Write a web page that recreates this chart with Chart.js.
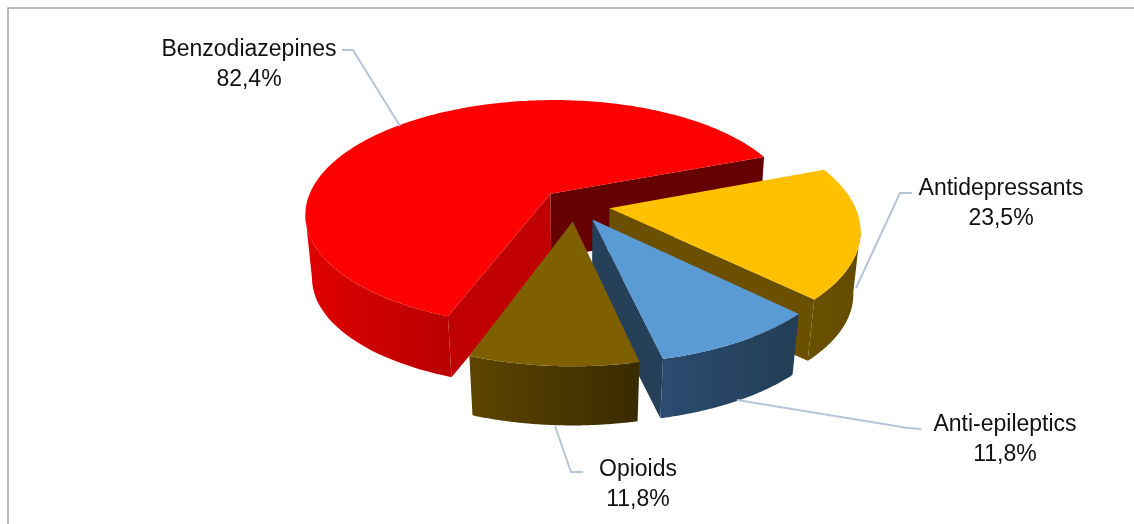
<!DOCTYPE html>
<html>
<head>
<meta charset="utf-8">
<script src="https://cdn.jsdelivr.net/npm/chart.js@4"></script>
<style>
    html, body { margin: 0; padding: 0; background: #fff; overflow: hidden; }
    #wrap { width: 1134px; height: 524px; position: relative; }
</style>
</head>
<body>
<div id="wrap"><canvas id="pieChart"></canvas></div>
<script>
const categories = ['Benzodiazepines', 'Antidepressants', 'Anti-epileptics', 'Opioids'];
const values = [82.4, 23.5, 11.8, 11.8];
const valueLabels = ['82,4%', '23,5%', '11,8%', '11,8%'];

const topColors = ['#ff0000', '#ffc000', '#5b9bd5', '#7f6000'];
const faceColors = ['#c00000', '#6a5000', '#254058', '#7f6000'];
const backFaceColors = ['#660000', '#6a5000', '#254058', '#7f6000'];
const wallColors = [
    ['#e00000', '#b80000'],
    ['#6a5000', '#634b00'],
    ['#2a4c70', '#233d55'],
    ['#5c4500', '#3a2b00']
];

// label placement, [text x, first line y, leader points]
const labelSpots = [
    { x: 249, y: 50, line: [[342, 50], [353, 50], [400, 126]] },
    { x: 1001, y: 189, line: [[912, 193], [900, 193], [856, 288]] },
    { x: 1005, y: 425, line: [[921, 429], [908, 428], [737, 400]] },
    { x: 638, y: 470, line: [[583, 472], [571, 472], [555, 426]] }
];

// flat pie -> tilted view
const persp = 0.172;
const flatten = 0.463;
const shrink = 0.025;
const depth = 64;

function project(arc, px, py, z) {
    const s = 1 / (1 - persp * py / arc.outerRadius + shrink * z);
    return {
        x: arc.x + px * s,
        y: arc.y + flatten * py * s + depth * z
    };
}

function slicePoint(arc, offX, offY, angle, r, z) {
    return project(arc, offX + Math.cos(angle) * r, offY + Math.sin(angle) * r, z);
}

function pathOf(ctx, pts) {
    ctx.beginPath();
    pts.forEach((p, i) => i ? ctx.lineTo(p.x, p.y) : ctx.moveTo(p.x, p.y));
    ctx.closePath();
}

const pie3d = {
    id: 'pie3d',
    beforeDatasetDraw(chart, args) {
        const ctx = chart.ctx;
        const arcs = chart.getDatasetMeta(args.index).data;

        arcs.forEach((arc, i) => {
            const start = arc.startAngle;
            const end = arc.endAngle;
            const mid = (start + end) / 2;
            const off = arc.options.offset || 0;
            const offX = Math.cos(mid) * off;
            const offY = Math.sin(mid) * off;
            const R = arc.outerRadius;

            // cut faces, only the ones turned to the viewer
            if (-Math.cos(start) > 0) {
                ctx.fillStyle = faceColors[i];
                pathOf(ctx, [
                    slicePoint(arc, offX, offY, start, 0, 0),
                    slicePoint(arc, offX, offY, start, R, 0),
                    slicePoint(arc, offX, offY, start, R, 1),
                    slicePoint(arc, offX, offY, start, 0, 1)
                ]);
                ctx.fill();
            }
            if (Math.cos(end) > 0) {
                ctx.fillStyle = backFaceColors[i];
                pathOf(ctx, [
                    slicePoint(arc, offX, offY, end, 0, 0),
                    slicePoint(arc, offX, offY, end, R, 0),
                    slicePoint(arc, offX, offY, end, R, 1),
                    slicePoint(arc, offX, offY, end, 0, 1)
                ]);
                ctx.fill();
            }

            // round wall, only from the silhouette forward
            const upper = [];
            const lower = [];
            for (let k = 0; k <= 120; k++) {
                const a = start + (end - start) * k / 120;
                if (Math.sin(a) >= persp) {
                    upper.push(slicePoint(arc, offX, offY, a, R, 0));
                    lower.push(slicePoint(arc, offX, offY, a, R, 1));
                }
            }
            if (upper.length > 1) {
                const xs = upper.concat(lower).map(p => p.x);
                const grad = ctx.createLinearGradient(Math.min(...xs), 0, Math.max(...xs), 0);
                grad.addColorStop(0, wallColors[i][0]);
                grad.addColorStop(1, wallColors[i][1]);
                ctx.fillStyle = grad;
                pathOf(ctx, upper.concat(lower.reverse()));
                ctx.fill();
            }

            // top
            const top = [slicePoint(arc, offX, offY, start, 0, 0)];
            for (let k = 0; k <= 240; k++) {
                top.push(slicePoint(arc, offX, offY, start + (end - start) * k / 240, R, 0));
            }
            ctx.fillStyle = topColors[i];
            pathOf(ctx, top);
            ctx.fill();
        });
        return false;
    },
    afterDraw(chart) {
        const ctx = chart.ctx;

        // outer frame, open on the right and at the bottom
        ctx.strokeStyle = '#a6a6a6';
        ctx.lineWidth = 1.5;
        ctx.beginPath();
        ctx.moveTo(8, 524);
        ctx.lineTo(8, 8);
        ctx.lineTo(1134, 8);
        ctx.stroke();

        // leader lines and labels
        ctx.textAlign = 'center';
        ctx.textBaseline = 'middle';
        ctx.font = '23px "Liberation Sans"';
        categories.forEach((name, i) => {
            const spot = labelSpots[i];
            ctx.strokeStyle = '#b7c5d8';
            ctx.lineWidth = 2;
            ctx.beginPath();
            spot.line.forEach((p, j) => j ? ctx.lineTo(p[0], p[1]) : ctx.moveTo(p[0], p[1]));
            ctx.stroke();
            ctx.fillStyle = '#111111';
            ctx.fillText(name, spot.x, spot.y);
            ctx.fillText(valueLabels[i], spot.x, spot.y + 30);
        });
    }
};

new Chart(document.getElementById('pieChart'), {
    type: 'pie',
    data: {
        labels: categories,
        datasets: [{
            data: values,
            backgroundColor: topColors,
            borderWidth: 0,
            offset: 35
        }]
    },
    options: {
        responsive: true,
        maintainAspectRatio: false,
        animation: false,
        rotation: 200,
        radius: 245,
        layout: { padding: { left: 16, bottom: 114 } },
        plugins: {
            legend: { display: false },
            tooltip: { enabled: false }
        }
    },
    plugins: [pie3d]
});
</script>
</body>
</html>
